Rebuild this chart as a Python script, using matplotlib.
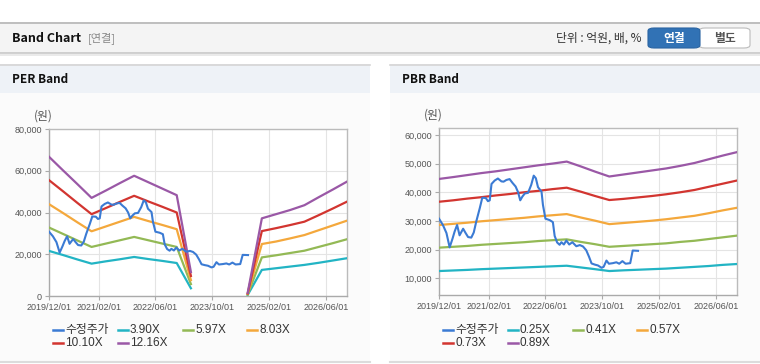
import matplotlib
matplotlib.use("Agg")
import matplotlib.pyplot as plt
from matplotlib.patches import Rectangle, FancyBboxPatch
from matplotlib.lines import Line2D
import numpy as np

plt.rcParams['font.family'] = ['Noto Sans CJK KR', 'DejaVu Sans']
LAT = ['Liberation Sans', 'Noto Sans CJK KR']

W, H = 760, 364

# ---------------- data ----------------
# x positions on the chart's category axis (0 = 2019/12/01, axis ends at 84)
x_tick_pos = [0, 14.1, 29.8, 46.0, 62.0, 78.0]
x_tick_labels = ["2019/12/01", "2021/02/01", "2022/06/01",
                 "2023/10/01", "2025/02/01", "2026/06/01"]

price_pos = [0, 1.1, 2.1, 3.0, 3.8, 4.4, 5.1, 5.8, 6.8, 7.5, 8.2, 9.1, 9.8,
             10.5, 11.5, 12.2, 13.2, 13.8, 14.3, 14.8, 15.7, 16.6, 17.6,
             18.2, 19.0, 19.9, 20.7, 21.6, 22.3, 22.9, 23.5, 24.2, 25.1,
             26.0, 26.7, 27.3, 27.9, 28.9, 29.3, 30.0, 31.2, 32.1, 32.6,
             33.3, 34.0, 34.5, 35.2, 35.9, 36.7, 37.6, 38.7, 39.7, 40.6,
             41.5, 42.3, 43.0, 43.9, 44.8, 45.8, 46.4, 47.2, 47.9, 49.0,
             50.0, 50.8, 51.7, 52.6, 53.9, 54.6, 56.1]
price = [30800, 28600, 25800, 20800, 23800, 26300, 28600, 25000, 27300, 25800,
         24400, 24200, 26000, 29800, 34500, 38100, 38000, 36900, 37200, 42900,
         44100, 44800, 43800, 43700, 44300, 44600, 43300, 42000, 40000, 37200,
         38500, 39600, 39800, 42600, 45800, 44900, 41800, 40200, 35600, 30800,
         30300, 29600, 24800, 22500, 21700, 22600, 21800, 23200, 21800, 22600,
         21200, 21600, 21100, 19800, 17500, 15200, 14800, 14500, 13700, 14000,
         16200, 15100, 15300, 15600, 15100, 16000, 15100, 15300, 19700, 19600]

band_pos = [0, 4, 8, 12, 16, 20, 24, 28, 32, 36, 40, 44, 48, 52, 56, 60,
            64, 68, 72, 76, 80, 84]
nan = float('nan')

per_labels = ["3.90X", "5.97X", "8.03X", "10.10X", "12.16X"]
per_390 = [21600, 19600, 17500, 15500, 16600, 17600, 18700, 17700, 16800, 15800,
           3700, nan, nan, nan, 500, 12500, 13300, 14100, 14900, 15900, 17000, 18100]
per_597 = [32800, 29700, 26600, 23500, 25100, 26700, 28300, 26700, 25100, 23500,
           5700, nan, nan, nan, 700, 18500, 19500, 20600, 21700, 23500, 25300, 27200]
per_803 = [44000, 39700, 35300, 31000, 33300, 35600, 37900, 35900, 34000, 32000,
           7600, nan, nan, nan, 1000, 24900, 26100, 27600, 29200, 31500, 33800, 36100]
per_1010 = [55500, 50100, 44600, 39200, 42100, 45100, 48000, 45300, 42700, 40000,
            9600, nan, nan, nan, 1200, 31100, 32500, 34000, 35600, 38700, 41900, 45200]
per_1216 = [66700, 60100, 53600, 47000, 50500, 54100, 57600, 54500, 51400, 48300,
            11500, nan, nan, nan, 1500, 37200, 39200, 41200, 43500, 47300, 51000, 54800]

pbr_labels = ["0.25X", "0.41X", "0.57X", "0.73X", "0.89X"]
pbr_025 = [12550, 12750, 12950, 13200, 13400, 13600, 13800, 14000, 14200, 14400,
           13800, 13200, 12550, 12800, 13000, 13200, 13400, 13700, 14000, 14300, 14700, 15000]
pbr_041 = [20700, 21000, 21300, 21700, 22000, 22300, 22600, 23000, 23300, 23600,
           22700, 21900, 21000, 21300, 21600, 21900, 22200, 22700, 23100, 23700, 24300, 24900]
pbr_057 = [28600, 29000, 29400, 29900, 30300, 30700, 31100, 31600, 32000, 32400,
           31200, 30100, 28900, 29300, 29700, 30100, 30600, 31200, 31800, 32700, 33700, 34600]
pbr_073 = [36700, 37200, 37800, 38300, 38900, 39400, 40000, 40500, 41100, 41600,
           40200, 38700, 37300, 37700, 38200, 38700, 39300, 40000, 40800, 41900, 43000, 44100]
pbr_089 = [44650, 45300, 46000, 46700, 47300, 48000, 48700, 49400, 50000, 50700,
           49000, 47200, 45500, 46200, 46900, 47600, 48300, 49200, 50200, 51500, 52800, 54000]

price_label = "수정주가"
colors = ['#3b7bd4', '#22b4c4', '#93b955', '#f4a83c', '#d23530', '#9a58a6']

# ---------------- figure ----------------
fig = plt.figure(figsize=(W / 100, H / 100), dpi=100)
fig.patch.set_facecolor('white')


def rect(x0, y0, x1, y1, fc, ec='none', lw=0, z=-10):
    r = Rectangle((x0 / W, 1 - y1 / H), (x1 - x0) / W, (y1 - y0) / H,
                  transform=fig.transFigure, facecolor=fc, edgecolor=ec,
                  linewidth=lw, zorder=z)
    fig.patches.append(r)


def hline(x0, x1, y, c, lw=1, z=-5):
    fig.add_artist(Line2D([x0 / W, x1 / W], [1 - y / H, 1 - y / H],
                          transform=fig.transFigure, color=c, lw=lw, zorder=z))


def ftext(x, y, s, **kw):
    fig.text(x / W, 1 - y / H, s, **kw)


# top header
rect(0, 22, W, 53, '#f4f4f4')
hline(0, W, 22.5, '#b5b5b5', lw=1.2)
hline(0, W, 53, '#c8c8c8', lw=1.2)
hline(0, W, 54.5, '#e6e6e6', lw=1.2)
ftext(12, 38, "Band Chart", fontsize=9, fontweight='bold', va='center', color='#111')
ftext(88, 38, "[연결]", fontsize=8, va='center', color='#888')
ftext(642, 38, "단위 : 억원, 배, %", fontsize=8.5, va='center', ha='right', color='#333')
# buttons
fig.patches.append(FancyBboxPatch((699 / W, 1 - 48 / H), 51 / W, 20 / H,
                                  boxstyle="round,pad=0,rounding_size=0.008",
                                  transform=fig.transFigure, facecolor='white',
                                  edgecolor='#bbbbbb', linewidth=0.8, zorder=1))
fig.patches.append(FancyBboxPatch((648 / W, 1 - 48 / H), 52 / W, 20 / H,
                                  boxstyle="round,pad=0,rounding_size=0.008",
                                  transform=fig.transFigure, facecolor='#3172b5',
                                  edgecolor='#2a64a2', linewidth=0.8, zorder=2))
ftext(674, 38.5, "연결", fontsize=8.5, fontweight='bold', va='center', ha='center',
      color='white', zorder=3)
ftext(724.5, 38.5, "별도", fontsize=8.5, fontweight='bold', va='center', ha='center',
      color='#555', zorder=3)

# panels
for (px0, px1, title) in [(0, 370, "PER Band"), (390, 760, "PBR Band")]:
    rect(px0, 64, px1, 362, '#fbfbfb')
    rect(px0, 64, px1, 93, '#eef2f7')
    hline(px0, px1, 64.5, '#d5d5d5', lw=1.2)
    hline(px0, px1, 362, '#dcdcdc', lw=1.5)
    ftext(px0 + 12, 79.5, title, fontsize=8.5, fontweight='bold', va='center', color='#111')


def make_axes(l, r, t, b, ylim, yticks, bands, band_labels, leg_x):
    ax = fig.add_axes([l / W, 1 - b / H, (r - l) / W, (b - t) / H])
    ax.set_zorder(5)
    ax.set_facecolor('white')
    ax.set_xlim(0, 84)
    ax.set_ylim(*ylim)
    ax.set_xticks(x_tick_pos)
    ax.set_xticklabels(x_tick_labels, family=LAT)
    ax.set_yticks(yticks)
    ax.set_yticklabels([f"{v:,}" for v in yticks], family=LAT)
    ax.tick_params(axis='both', labelsize=6.5, labelcolor='#555', color='#aaaaaa',
                   length=3, width=0.8, pad=2)
    for s in ax.spines.values():
        s.set_color('#bbbbbb')
        s.set_linewidth(1.0)
    ax.spines['left'].set_color('#aaaaaa')
    ax.spines['bottom'].set_color('#aaaaaa')
    ax.grid(True, color='#e4e4e4', lw=0.8)
    ax.set_axisbelow(True)
    ax.plot(price_pos, price, color=colors[0], lw=1.5, zorder=5)
    for i, vals in enumerate(bands):
        ax.plot(band_pos, vals, color=colors[i + 1], lw=1.6, zorder=3)
    ax.text(-0.02, 1.04, "(원)", transform=ax.transAxes, fontsize=8.5, color='#555',
            ha='center', va='bottom')
    labels = [price_label] + band_labels
    col_x = [leg_x, leg_x + 65, leg_x + 130, leg_x + 194]
    positions = [(col_x[0], 330), (col_x[1], 330), (col_x[2], 330), (col_x[3], 330),
                 (col_x[0], 343), (col_x[1], 343)]
    for (x, y), lab, c in zip(positions, labels, colors):
        fig.add_artist(Line2D([x / W, (x + 10) / W], [1 - y / H, 1 - y / H],
                              transform=fig.transFigure, color=c, lw=1.8))
        ftext(x + 12, y, lab, fontsize=8.5, va='center', color='#333', family=LAT)
    return ax


make_axes(49, 347, 129, 296, (0, 80000), [0, 20000, 40000, 60000, 80000],
          [per_390, per_597, per_803, per_1010, per_1216], per_labels, 53)
make_axes(439, 737, 128.3, 295, (4200, 62300), [10000, 20000, 30000, 40000, 50000, 60000],
          [pbr_025, pbr_041, pbr_057, pbr_073, pbr_089], pbr_labels, 443)

fig.savefig("out.png", dpi=100)
